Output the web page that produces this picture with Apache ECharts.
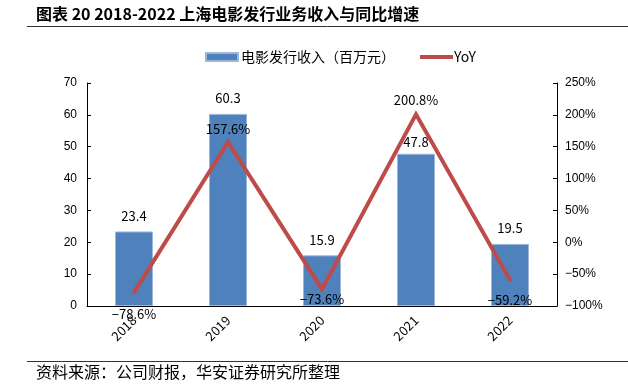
<!DOCTYPE html>
<html>
<head>
<meta charset="utf-8">
<script src="https://cdn.jsdelivr.net/npm/echarts@6/dist/echarts.min.js"></script>
<style>html,body{margin:0;padding:0;background:#fff;}#c{width:628px;height:389px;}</style>
</head>
<body>
<div id="c"></div>
<script>
var categories = ['2018', '2019', '2020', '2021', '2022'];
var revenue = [23.4, 60.3, 15.9, 47.8, 19.5];
var yoy = [-78.6, 157.6, -73.6, 200.8, -59.2];
var leftTicks = [0, 70, 10];
var rightTicks = [-100, 250, 50];
var yoyLabelPos = ['bottom', 'top', 'bottom', 'top', 'bottom'];
var yoyLabelDist = [15, 6, 3, 7, 13];
var revLabelDist = [9, 9, 9, 5, 9];

var cjk = '"Noto Sans CJK SC", sans-serif';
var chart = echarts.init(document.getElementById('c'));
chart.setOption({
  animation: false,
  backgroundColor: '#fff',
  graphic: [
    {type: 'text', left: 36, top: 6, style: {text: '图表 20 2018-2022 上海电影发行业务收入与同比增速', font: 'bold 16px ' + cjk, fill: '#000'}},
    {type: 'line', shape: {x1: 27, y1: 26.5, x2: 628, y2: 26.5}, style: {stroke: '#333', lineWidth: 1}},
    {type: 'line', shape: {x1: 27, y1: 361.5, x2: 628, y2: 361.5}, style: {stroke: '#333', lineWidth: 1}},
    {type: 'text', left: 36, top: 364, style: {text: '资料来源：公司财报，华安证券研究所整理', font: '16px ' + cjk, fill: '#000'}}
  ],
  legend: [
    {
      top: 45, left: 200,
      itemWidth: 32, itemHeight: 8,
      textStyle: {fontFamily: cjk, fontSize: 14, color: '#000', padding: [0, 0, 0, -2]},
      data: [{name: '电影发行收入（百万元）', icon: 'rect'}]
    },
    {
      top: 45, left: 415,
      itemWidth: 33, itemHeight: 4,
      textStyle: {fontFamily: cjk, fontSize: 14, color: '#000', padding: [0, 0, 0, -4]},
      data: [{name: 'YoY', icon: 'rect', itemStyle: {color: '#BE4B48', borderWidth: 0}}]
    }
  ],
  grid: {left: 87, right: 71, top: 83, bottom: 83},
  xAxis: {
    type: 'category', data: categories,
    axisLine: {lineStyle: {color: '#000', width: 1}},
    axisTick: {show: false},
    axisLabel: {rotate: 45, color: '#000', fontFamily: cjk, fontSize: 13, margin: 12}
  },
  yAxis: [
    {
      type: 'value', min: leftTicks[0], max: leftTicks[1], interval: leftTicks[2],
      splitLine: {show: false},
      axisLine: {show: true, lineStyle: {color: '#000'}},
      axisTick: {show: true, inside: true, length: 4, lineStyle: {color: '#000'}},
      axisLabel: {color: '#000', fontFamily: 'Liberation Sans', fontSize: 12, margin: 10}
    },
    {
      type: 'value', min: rightTicks[0], max: rightTicks[1], interval: rightTicks[2],
      splitLine: {show: false},
      axisLine: {show: true, lineStyle: {color: '#000'}},
      axisTick: {show: true, inside: true, length: 4, lineStyle: {color: '#000'}},
      axisLabel: {color: '#000', fontFamily: 'Liberation Sans', fontSize: 12, margin: 8, formatter: function (v) { return v.toString().replace('-', '\u2212') + '%'; }}
    }
  ],
  series: [
    {
      name: '电影发行收入（百万元）', type: 'bar', barWidth: 38,
      itemStyle: {color: '#4F81BD', borderColor: '#9DB7DB', borderWidth: 1},
      data: revenue.map(function (v, i) {
        return {value: v, label: {show: true, position: 'top', distance: revLabelDist[i]}};
      }),
      label: {color: '#000', fontFamily: cjk, fontSize: 13, formatter: function (p) { return p.value.toFixed(1); }},
      z: 2
    },
    {
      name: 'YoY', type: 'line', yAxisIndex: 1,
      symbol: 'circle', symbolSize: 1, showSymbol: true,
      lineStyle: {color: '#BE4B48', width: 4, cap: 'round', join: 'miter'},
      itemStyle: {color: 'rgba(0,0,0,0)', borderWidth: 0},
      data: yoy.map(function (v, i) {
        return {value: v, label: {show: true, position: yoyLabelPos[i], distance: yoyLabelDist[i]}};
      }),
      label: {show: true, color: '#000', fontFamily: cjk, fontSize: 13, formatter: function (p) { return p.value.toFixed(1).replace('-', '\u2212') + '%'; }},
      z: 3
    }
  ]
});
</script>
</body>
</html>
